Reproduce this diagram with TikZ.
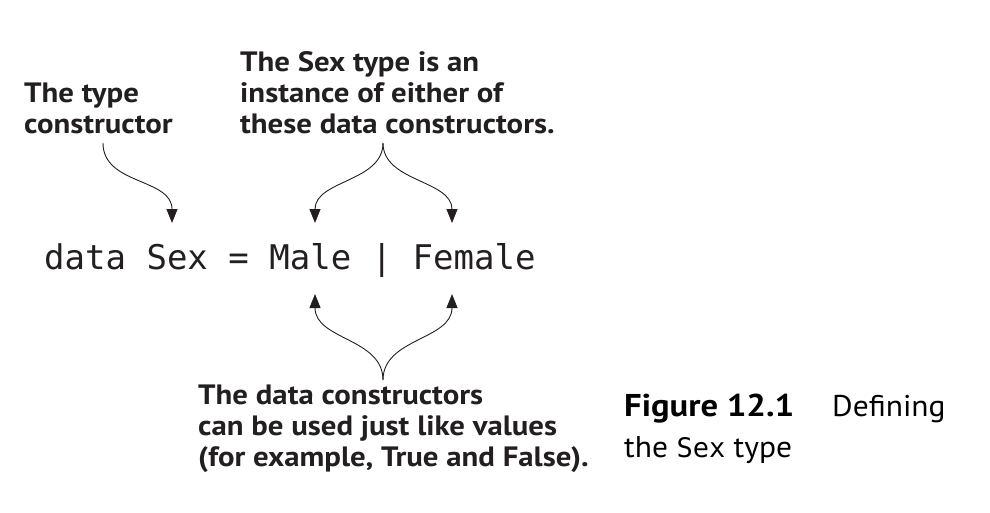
\documentclass[tikz,border=0pt]{standalone}
\usepackage{fontspec}
\setmainfont{PT Sans}
\newfontfamily\labelfont[FakeStretch=1.1]{PT Sans}
\newfontfamily\capfont[FakeStretch=1.05]{PT Sans}
\newfontfamily\codefont{DejaVu Sans Mono}
\usetikzlibrary{arrows.meta,calc}
\definecolor{ink}{HTML}{231F20}
\tikzset{
  lbl/.style={font=\labelfont\bfseries\fontsize{28}{31}\selectfont, align=left, inner sep=0pt, anchor=base west, text=ink},
  codew/.style={font=\codefont\fontsize{34}{34}\selectfont, inner sep=0pt, anchor=base west, text=ink},
  capb/.style={font=\labelfont\bfseries\fontsize{31.5}{31.5}\selectfont, inner sep=0pt, anchor=base west, text=black},
  capr/.style={font=\capfont\fontsize{30}{30}\selectfont, inner sep=0pt, anchor=base west, text=black},
  arr/.style={draw=ink, line width=0.9pt, -{Triangle[length=14pt,width=11pt]}},
}
\def\cw{20.47}
\begin{document}
\begin{tikzpicture}[x=1pt,y=-1pt]
\useasboundingbox (0,0) rectangle (990,512);
% labels (anchor = baseline of last line)
\node[lbl] (tc) at (24,133) {The type\\constructor};
\node[lbl] (inst) at (240,133) {The Sex type is an\\instance of either of\\these data constructors.};
\node[lbl] (vals) at (198,466) {The data constructors\\can be used just like values\\(for example, True and False).};
% code line
\node[codew] (kw) at (44,269) {data};
\node[codew] (sex) at ({44+5*\cw},269) {Sex};
\node[codew] (eq) at ({44+9*\cw},269) {=};
\node[codew] (male) at ({44+11*\cw},269) {Male};
\node[codew] (bar) at ({44+16*\cw},269) {|};
\node[codew] (female) at ({44+18*\cw},269) {Female};
% caption
\node[capb] (fig) at (624,416) {Figure 12.1};
\node[capr] (def) at (832,416) {Defining};
\node[capr] (the) at (624,457) {the {\codefont\fontsize{27}{27}\selectfont Sex} type};
% arrow endpoints
\coordinate (s1) at (103,143);
\coordinate (s2) at (383,143);
\coordinate (s3) at (383,380);
\coordinate (t1) at (172,223);
\coordinate (t2) at (315,223);
\coordinate (t3) at (452,223);
\coordinate (b2) at (315,294);
\coordinate (b3) at (452,294);
% arrows
\draw[arr] (s1) .. controls (103,185) and (172,178) .. (t1);
\draw[arr] (s2) .. controls (383,182) and (315,180) .. (t2);
\draw[arr] (s2) .. controls (383,182) and (452,180) .. (t3);
\draw[arr] (s3) .. controls (383,338) and (315,340) .. (b2);
\draw[arr] (s3) .. controls (383,338) and (452,340) .. (b3);
\end{tikzpicture}
\end{document}
